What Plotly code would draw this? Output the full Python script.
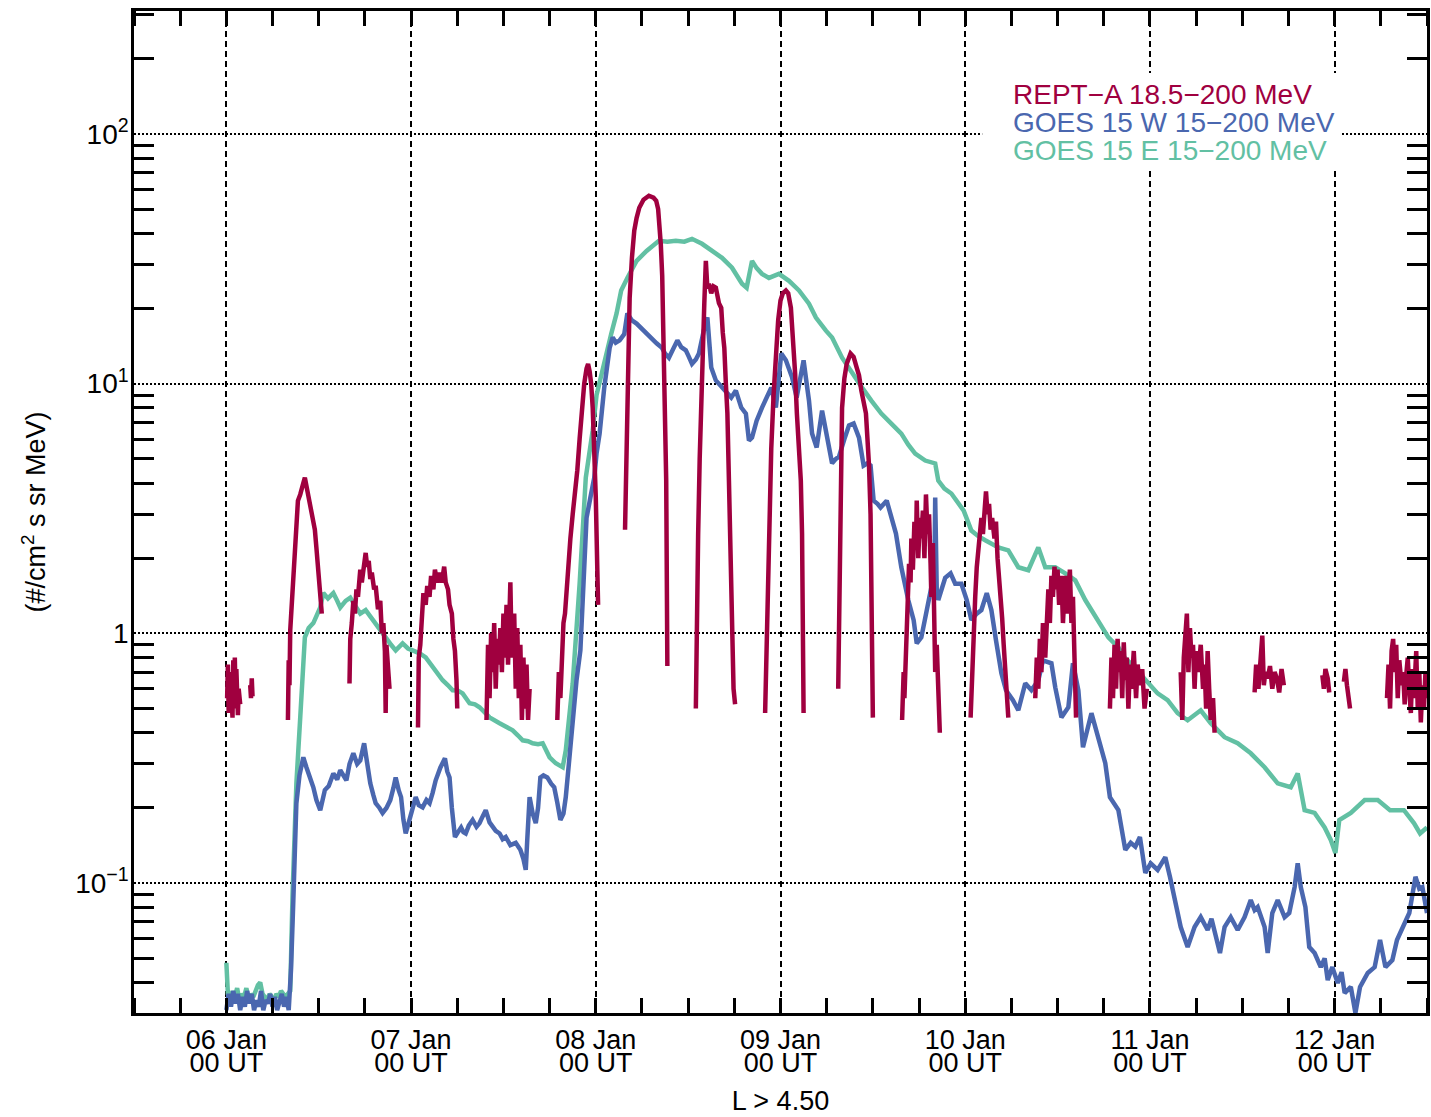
import plotly.graph_objects as go
import pandas as pd

# ---------------- data (hours since 2014-01-06 00 UT, flux) ----------------
goes_w_hours = [0.0, 0.3, 0.6, 0.9, 1.2, 1.5, 1.8, 2.1, 2.4, 2.7, 3.0, 3.3, 3.6, 3.9, 4.2, 4.5, 4.8, 5.1, 5.4, 5.7,
                6.0, 6.3, 6.6, 6.9, 7.2, 7.5, 7.8, 8.1, 8.4, 8.7, 8.9, 9.1, 9.5, 10.0, 10.4, 10.8, 11.3, 11.7, 12.2,
                12.8, 13.3, 13.9, 14.4, 14.8, 15.2, 15.6, 16.0, 16.5, 17.0, 17.4, 17.9, 18.3, 18.7, 19.1, 19.4, 19.9,
                20.3, 20.8, 21.3, 21.7, 22.0, 22.4, 22.7, 23.0, 23.3, 23.7, 24.0, 24.3, 24.6, 25.0, 25.5, 26.0, 26.4,
                26.8, 27.2, 27.8, 28.4, 28.7, 29.0, 29.3, 29.7, 30.1, 30.5, 30.8, 31.1, 31.5, 32.0, 32.5, 32.9, 33.3,
                33.7, 34.2, 34.6, 35.0, 35.5, 35.9, 36.3, 36.9, 37.6, 38.2, 38.6, 38.9, 39.1, 39.4, 39.8, 40.2, 40.5,
                40.8, 41.2, 41.7, 42.2, 42.6, 43.0, 43.4, 43.8, 44.1, 44.5, 45.0, 45.5, 46.0, 46.4, 46.8, 47.3, 47.8,
                48.1, 48.5, 49.1, 49.8, 50.2, 50.6, 51.1, 51.7, 52.1, 52.7, 53.3, 54.0, 54.6, 55.3, 55.9, 56.6, 57.0,
                57.5, 58.0, 58.6, 59.1, 59.7, 60.1, 60.5, 61.0, 61.4, 62.1, 62.5, 62.8, 63.0, 63.6, 64.4, 65.0, 65.6,
                66.2, 66.9, 67.5, 67.9, 68.3, 68.9, 69.6, 70.2, 70.8, 71.4, 72.1, 72.7, 73.5, 74.1, 74.6, 75.0, 75.4,
                75.7, 76.1, 76.7, 77.4, 78.0, 78.7, 79.2, 79.6, 80.3, 80.9, 81.5, 82.2, 82.8, 83.3, 83.7, 84.1, 84.6,
                85.0, 85.8, 86.3, 87.0, 87.7, 88.2, 88.6, 89.3, 89.7, 90.3, 91.0, 91.6, 92.0, 92.1, 92.3, 92.5, 93.4,
                94.1, 94.7, 95.5, 96.2, 96.8, 97.5, 98.1, 98.8, 99.4, 100.0, 100.7, 101.3, 102.2, 102.9, 103.8, 104.6,
                105.5, 106.1, 107.2, 107.7, 108.5, 109.4, 110.0, 110.7, 111.3, 112.4, 113.3, 114.2, 114.8, 115.9,
                116.8, 117.5, 118.1, 118.7, 119.4, 120.1, 121.0, 122.0, 122.6, 123.2, 124.0, 124.9, 125.4, 125.8,
                126.6, 127.5, 128.0, 128.4, 129.1, 129.7, 130.5, 131.4, 132.3, 133.1, 133.6, 134.0, 134.9, 135.3,
                135.9, 136.6, 137.5, 138.1, 138.8, 139.2, 139.6, 140.2, 140.7, 141.4, 142.2, 142.7, 143.1, 143.7,
                144.4, 144.9, 145.3, 146.1, 146.7, 147.3, 148.3, 149.2, 149.9, 150.6, 151.5, 152.1, 152.8, 153.7,
                154.5, 155.0, 155.4, 156.0]
goes_w_flux = [0.031, 0.036, 0.032, 0.037, 0.033, 0.036, 0.031, 0.035, 0.032, 0.037, 0.033, 0.036, 0.031, 0.034,
               0.032, 0.037, 0.031, 0.034, 0.033, 0.036, 0.032, 0.035, 0.031, 0.034, 0.036, 0.032, 0.035, 0.031,
               0.045, 0.085, 0.136, 0.209, 0.27, 0.319, 0.291, 0.27, 0.242, 0.215, 0.196, 0.236, 0.245, 0.275, 0.26,
               0.283, 0.27, 0.258, 0.3, 0.331, 0.3, 0.31, 0.363, 0.3, 0.251, 0.225, 0.209, 0.2, 0.191, 0.2, 0.215,
               0.24, 0.265, 0.235, 0.221, 0.18, 0.158, 0.175, 0.191, 0.2, 0.221, 0.205, 0.201, 0.215, 0.209, 0.23,
               0.258, 0.29, 0.316, 0.28, 0.265, 0.2, 0.153, 0.16, 0.167, 0.16, 0.158, 0.17, 0.179, 0.168, 0.174,
               0.185, 0.196, 0.175, 0.167, 0.162, 0.158, 0.15, 0.153, 0.142, 0.145, 0.136, 0.125, 0.113, 0.15,
               0.221, 0.19, 0.174, 0.2, 0.265, 0.27, 0.265, 0.25, 0.242, 0.21, 0.179, 0.19, 0.221, 0.3, 0.461, 0.65,
               0.855, 1.6, 2.9, 3.5, 4.2, 5.25, 6.31, 9.64, 13.9, 15.3, 14.6, 14.9, 15.8, 19.1, 17.9, 17.4, 16.5,
               15.8, 15.0, 14.5, 13.9, 13.2, 12.7, 13.6, 14.9, 14.0, 13.6, 12.8, 12.0, 12.5, 13.2, 16.7, 18.4, 14.0,
               11.6, 10.3, 9.64, 9.1, 8.79, 9.38, 8.02, 7.59, 5.92, 6.08, 7.11, 8.02, 8.79, 9.64, 8.02, 13.2, 12.4,
               10.6, 8.79, 10.5, 12.4, 10.0, 8.55, 6.31, 5.55, 7.8, 6.31, 4.8, 5.0, 5.1, 6.0, 6.8, 6.92, 6.08, 4.7,
               4.8, 4.7, 3.4, 3.3, 3.19, 3.4, 3.02, 2.51, 1.84, 1.55, 1.36, 1.13, 0.912, 0.964, 1.27, 1.53, 1.7, 3.5,
               1.5, 1.36, 1.67, 1.74, 1.58, 1.58, 1.36, 1.13, 1.2, 1.24, 1.45, 1.24, 0.938, 0.692, 0.592, 0.54,
               0.492, 0.631, 0.592, 0.649, 0.78, 0.759, 0.608, 0.461, 0.506, 0.759, 0.592, 0.35, 0.479, 0.373,
               0.302, 0.221, 0.196, 0.136, 0.145, 0.14, 0.153, 0.11, 0.12, 0.113, 0.127, 0.106, 0.0855, 0.0667,
               0.0555, 0.062, 0.0667, 0.0731, 0.0649, 0.072, 0.0649, 0.0525, 0.0667, 0.0731, 0.0649, 0.0731,
               0.0855, 0.078, 0.0802, 0.0667, 0.0525, 0.0759, 0.0855, 0.0731, 0.0759, 0.0964, 0.12, 0.0964, 0.0802,
               0.0555, 0.0525, 0.0461, 0.05, 0.0409, 0.0461, 0.0398, 0.044, 0.0363, 0.0384, 0.0302, 0.0384, 0.0437,
               0.0461, 0.0592, 0.0461, 0.0492, 0.0592, 0.0667, 0.0759, 0.106, 0.095, 0.0964, 0.0759]

goes_e_hours = [0.0, 0.2, 0.5, 0.8, 1.1, 1.4, 1.7, 2.0, 2.3, 2.6, 2.9, 3.2, 3.5, 3.8, 4.1, 4.4, 4.7, 5.0, 5.3, 5.6,
                5.9, 6.2, 6.5, 6.8, 7.1, 7.4, 7.7, 8.0, 8.3, 8.6, 9.1, 9.6, 10.0, 10.2, 10.7, 11.3, 12.2, 12.6, 13.2,
                13.9, 14.4, 14.8, 15.5, 16.1, 16.8, 17.4, 18.1, 19.0, 19.8, 20.7, 21.4, 22.0, 22.9, 23.6, 24.2, 25.1,
                25.9, 26.8, 27.5, 28.1, 28.8, 29.4, 30.1, 30.7, 31.6, 32.3, 32.9, 33.6, 34.2, 35.5, 36.3, 37.2, 37.9,
                38.5, 39.2, 39.8, 40.5, 41.1, 42.0, 42.8, 43.7, 44.1, 45.0, 45.9, 46.7, 47.6, 48.1, 48.9, 50.0, 50.7,
                51.3, 52.1, 53.3, 54.6, 55.4, 56.2, 57.3, 58.4, 59.5, 60.5, 61.8, 63.1, 64.4, 65.7, 67.0, 67.6, 68.3,
                68.9, 69.6, 70.5, 71.8, 73.1, 74.4, 75.7, 76.6, 77.9, 78.7, 80.0, 81.3, 82.6, 83.8, 85.1, 86.4, 87.7,
                88.6, 89.5, 90.8, 92.1, 92.5, 93.3, 94.2, 95.8, 96.8, 97.7, 98.6, 100.3, 101.6, 102.9, 104.2, 105.5,
                106.4, 107.7, 109.0, 110.3, 111.6, 112.4, 113.3, 114.6, 115.9, 116.7, 117.5, 118.5, 119.4, 121.0,
                122.3, 123.6, 124.9, 125.8, 126.6, 127.9, 128.8, 129.7, 131.4, 133.1, 134.9, 136.6, 138.3, 139.2,
                140.1, 141.4, 142.7, 143.5, 144.1, 144.6, 146.1, 147.9, 149.6, 151.2, 153.0, 154.3, 155.1, 156.0]
goes_e_flux = [0.048, 0.036, 0.034, 0.037, 0.035, 0.038, 0.034, 0.036, 0.035, 0.038, 0.034, 0.036, 0.035, 0.037,
               0.039, 0.040, 0.036, 0.035, 0.034, 0.036, 0.035, 0.034, 0.036, 0.035, 0.037, 0.036, 0.035, 0.036,
               0.037, 0.09, 0.251, 0.461, 0.855, 0.964, 1.05, 1.10, 1.27, 1.45, 1.38, 1.45, 1.35, 1.27, 1.35, 1.39,
               1.28, 1.20, 1.24, 1.13, 1.05, 0.964, 0.9, 0.855, 0.912, 0.87, 0.855, 0.832, 0.802, 0.731, 0.69, 0.649,
               0.62, 0.592, 0.59, 0.575, 0.525, 0.52, 0.506, 0.48, 0.461, 0.437, 0.425, 0.409, 0.39, 0.373, 0.37,
               0.363, 0.36, 0.363, 0.319, 0.302, 0.291, 0.340, 0.631, 1.58, 4.2, 6.5, 9.0, 11.6, 15.8, 19.1, 23.6,
               26.5, 31.0, 34.0, 35.5, 37.3, 37.0, 37.3, 37.0, 38.0, 36.3, 34.0, 31.9, 29.1, 25.1, 24.2, 31.0, 29.0,
               27.5, 26.5, 27.5, 25.8, 23.6, 20.9, 18.4, 16.3, 15.3, 12.7, 11.0, 9.64, 8.55, 7.59, 6.92, 6.31, 5.7,
               5.25, 4.92, 4.79, 4.09, 3.8, 3.63, 3.1, 2.58, 2.45, 2.36, 2.21, 2.15, 1.84, 1.79, 2.21, 1.84, 1.84,
               1.74, 1.63, 1.36, 1.24, 1.13, 0.964, 0.879, 0.8, 0.759, 0.7, 0.649, 0.575, 0.54, 0.479, 0.449, 0.47,
               0.492, 0.437, 0.409, 0.384, 0.363, 0.331, 0.291, 0.251, 0.242, 0.275, 0.196, 0.191, 0.167, 0.149,
               0.132, 0.179, 0.191, 0.215, 0.215, 0.196, 0.196, 0.174, 0.158, 0.167]

# REPT-A: separate passes (L > 4.5), None marks a data gap
rept_hours = [0.1, 0.2, 0.3, 0.4, 0.5, 0.6, 0.8, 0.9, 1.0, 1.1, 1.2, 1.3, 1.5, 1.6, 1.8, None,
              3.1, 3.2, 3.3, 3.4, None,
              8.0, 8.1, 8.2, 8.3, 8.5, 8.7, 8.9, 9.1, 9.3, 9.6, 9.8, 10.0, 10.2, 10.4, 10.6, 10.9, 11.2, 11.5,
              11.7, 11.9, 12.1, 12.3, 12.4, None,
              16.0, 16.1, 16.3, 16.5, 16.7, 16.9, 17.1, 17.4, 17.6, 17.9, 18.1, 18.3, 18.5, 18.7, 18.9, 19.2,
              19.4, 19.7, 20.0, 20.2, 20.4, 20.6, 20.7, 20.8, 21.0, 21.2, None,
              24.9, 25.0, 25.2, 25.4, 25.6, 25.9, 26.1, 26.4, 26.6, 26.9, 27.1, 27.4, 27.7, 28.0, 28.3, 28.5,
              28.8, 29.0, 29.3, 29.5, 29.7, 29.9, 30.0, None,
              33.8, 34.0, 34.2, 34.4, 34.6, 34.8, 35.0, 35.2, 35.4, 35.6, 35.8, 36.0, 36.2, 36.4, 36.6, 36.9,
              37.0, 37.2, 37.4, 37.6, 37.8, 38.0, 38.2, 38.4, 38.6, 38.8, 39.0, 39.2, 39.4, None,
              43.0, 43.2, 43.4, 43.6, 43.8, 44.0, 44.2, 44.5, 44.7, 45.0, 45.3, 45.6, 45.9, 46.2, 46.5, 46.8,
              47.0, 47.2, 47.4, 47.6, 47.8, 48.0, 48.2, 48.3, None,
              51.8, 52.0, 52.2, 52.4, 52.7, 53.0, 53.3, 53.65, 54.2, 54.9, 55.5, 55.85, 56.1, 56.24, 56.45, 56.63,
              56.8, 56.9, 57.05, 57.15, 57.3, None,
              61.0, 61.1, 61.3, 61.5, 61.7, 61.9, 62.1, 62.3, 62.5, 62.7, 63.0, 63.3, 63.6, 64.0, 64.3, 64.5,
              64.7, 64.9, 65.1, 65.3, 65.5, 65.7, 65.9, 66.1, None,
              70.0, 70.2, 70.4, 70.6, 70.8, 71.1, 71.4, 71.7, 72.0, 72.3, 72.7, 73.0, 73.35, 73.6, 73.74, 73.9,
              74.13, 74.4, 74.64, 74.8, 74.9, 75.0, None,
              79.5, 79.7, 79.9, 80.0, 80.3, 80.6, 81.1, 81.5, 81.9, 82.2, 82.5, 82.8, 83.1, 83.3, 83.5, 83.7,
              83.85, 84.0, None,
              87.8, 88.0, 88.1, 88.3, 88.5, 88.7, 88.9, 89.0, 89.2, 89.4, 89.6, 89.7, 89.9, 90.1, 90.3, 90.5,
              90.7, 90.9, 91.1, 91.3, 91.5, 91.6, 91.8, 92.0, 92.1, 92.3, 92.5, 92.7, None,
              96.7, 96.9, 97.1, 97.3, 97.5, 97.7, 97.9, 98.1, 98.3, 98.5, 98.7, 98.9, 99.1, 99.3, 99.5, 99.8,
              100.0, 100.2, 100.4, 100.6, 100.8, 101.0, 101.2, 101.4, 101.6, None,
              105.1, 105.3, 105.5, 105.7, 105.9, 106.1, 106.4, 106.6, 106.8, 107.0, 107.2, 107.4, 107.6, 107.8,
              108.0, 108.2, 108.5, 108.7, 109.0, 109.2, 109.4, 109.6, 109.8, 110.0, 110.2, 110.4, None,
              114.8, 115.0, 115.2, 115.4, 115.6, 115.8, 116.0, 116.2, 116.4, 116.6, 116.8, 117.0, 117.2, 117.4,
              117.6, 117.9, 118.2, 118.4, 118.7, 119.0, 119.3, 119.6, None,
              124.0, 124.2, 124.4, 124.6, 124.8, 125.0, 125.2, 125.4, 125.6, 125.8, 126.0, 126.3, 126.6, 126.9,
              127.1, 127.3, 127.5, 127.7, 127.9, 128.2, 128.4, None,
              133.6, 133.8, 134.1, 134.4, 134.6, 134.8, 135.0, 135.3, 135.6, 135.9, 136.2, 136.5, 136.8, 137.1,
              137.4, None,
              142.4, 142.6, 142.8, 143.1, 143.3, None,
              145.2, 145.4, 145.6, 145.8, 146.0, None,
              150.8, 151.0, 151.2, 151.4, 151.6, 151.8, 152.0, 152.2, 152.4, 152.7, 152.9, 153.1, 153.3, 153.5,
              153.7, 153.9, 154.1, 154.3, 154.6, 154.8, 155.0, 155.2, 155.4, 155.6, 155.8, 156.0]
rept_flux = [0.55, 0.75, 0.48, 0.70, 0.52, 0.62, 0.46, 0.78, 0.50, 0.80, 0.55, 0.72, 0.47, 0.60, 0.52, None,
             0.62, 0.55, 0.66, 0.56, None,
             0.45, 0.78, 0.62, 1.03, 1.3, 1.84, 2.3, 3.0, 3.4, 3.6, 3.9, 4.0, 4.2, 3.9, 3.6, 3.3, 2.9, 2.6, 2.2,
             1.9, 1.6, 1.35, 1.2, None,
             0.63, 0.95, 1.1, 1.35, 1.2, 1.5, 1.4, 1.8, 1.6, 1.95, 2.1, 1.85, 1.95, 1.65, 1.75, 1.5, 1.55, 1.25,
             1.35, 1.0, 1.1, 0.85, 0.48, 0.9, 0.7, 0.6, None,
             0.42, 0.8, 0.9, 1.2, 1.45, 1.3, 1.55, 1.4, 1.7, 1.5, 1.8, 1.6, 1.75, 1.6, 1.85, 1.6, 1.5, 1.3, 1.2,
             0.95, 0.85, 0.65, 0.5, None,
             0.45, 0.9, 0.55, 1.0, 0.7, 1.1, 0.6, 0.95, 0.75, 1.05, 0.7, 1.2, 0.8, 1.3, 0.75, 1.6, 1.1, 0.8, 1.2,
             0.6, 1.05, 0.55, 0.9, 0.45, 0.8, 0.5, 0.75, 0.45, 0.6, None,
             0.45, 0.7, 0.55, 0.9, 1.1, 1.2, 1.5, 1.9, 2.4, 3.0, 3.6, 4.5, 6.0, 8.0, 10.0, 11.5, 12.0, 11.2, 10.0,
             8.0, 5.5, 3.5, 1.8, 1.3, None,
             2.6, 5.0, 12.0, 22.0, 32.0, 41.0, 46.0, 50.6, 54.5, 56.5, 55.5, 54.0, 50.0, 44.9, 36.0, 27.0, 16.0,
             10.3, 6.0, 4.09, 0.74, None,
             0.5, 1.0, 2.5, 5.0, 9.0, 14.0, 21.0, 31.0, 24.0, 25.1, 23.0, 24.5, 24.2, 21.0, 20.1, 16.0, 13.9, 10.0,
             7.6, 4.1, 2.0, 1.0, 0.6, 0.52, None,
             0.48, 1.0, 2.0, 3.5, 5.5, 9.0, 13.9, 18.0, 21.5, 23.0, 23.6, 23.0, 20.1, 16.0, 13.9, 11.0, 7.59, 5.0,
             4.09, 2.5, 1.2, 0.48, None,
             0.6, 1.5, 4.0, 8.0, 10.5, 12.0, 13.2, 12.8, 11.6, 10.8, 9.4, 8.5, 7.6, 6.0, 4.7, 3.0, 1.5, 0.46, None,
             0.45, 0.7, 0.55, 0.9, 1.4, 1.9, 1.6, 2.4, 1.8, 2.8, 2.2, 3.4, 2.0, 2.9, 2.4, 3.1, 2.0, 3.6, 2.5, 3.0,
             1.9, 1.4, 2.3, 1.0, 0.7, 0.9, 0.5, 0.4, None,
             0.46, 0.75, 1.0, 1.4, 1.84, 2.2, 2.6, 2.9, 2.5, 3.3, 3.7, 3.0, 3.3, 2.6, 2.9, 2.4, 2.8, 2.0, 1.7, 1.32,
             1.15, 0.9, 0.75, 0.55, 0.46, None,
             0.55, 0.8, 0.6, 0.95, 0.7, 1.1, 0.8, 1.3, 1.5, 1.1, 1.7, 1.4, 1.85, 1.5, 1.8, 1.3, 1.7, 1.1, 1.7, 1.2,
             1.6, 1.8, 1.1, 1.4, 0.8, 0.46, None,
             0.5, 0.8, 0.55, 0.9, 0.6, 0.95, 0.7, 0.85, 0.55, 0.92, 0.65, 0.8, 0.5, 0.75, 0.6, 0.85, 0.55, 0.75,
             0.62, 0.72, 0.5, 0.6, None,
             0.7, 0.45, 0.8, 0.95, 1.2, 0.7, 1.05, 0.8, 0.9, 0.6, 0.85, 0.7, 0.9, 0.6, 0.75, 0.5, 0.85, 0.6, 0.45,
             0.55, 0.4, None,
             0.58, 0.75, 0.6, 0.8, 0.98, 0.62, 0.7, 0.66, 0.74, 0.6, 0.7, 0.66, 0.58, 0.72, 0.62, None,
             0.68, 0.6, 0.72, 0.66, 0.58, None,
             0.64, 0.72, 0.62, 0.55, 0.5, None,
             0.55, 0.75, 0.5, 0.85, 0.95, 0.7, 0.9, 0.55, 0.78, 0.62, 0.7, 0.52, 0.68, 0.8, 0.6, 0.48, 0.72, 0.55,
             0.85, 0.5, 0.7, 0.44, 0.62, 0.5, 0.7, 0.55]

day_ticks = ["2014-01-06", "2014-01-07", "2014-01-08", "2014-01-09", "2014-01-10", "2014-01-11", "2014-01-12"]
day_labels = ["06 Jan", "07 Jan", "08 Jan", "09 Jan", "10 Jan", "11 Jan", "12 Jan"]
hour_labels = ["00 UT"] * 7
y_ticks = [0.1, 1, 10, 100]
y_labels = ["10<sup>\u22121</sup>", "1", "10<sup>1</sup>", "10<sup>2</sup>"]
series_names = ["REPT\u2212A 18.5\u2212200 MeV", "GOES 15 W 15\u2212200 MeV", "GOES 15 E 15\u2212200 MeV"]
x_title = "L > 4.50"
y_title = "(#/cm<sup>2</sup> s sr MeV)"

# ---------------- styling ----------------
C_REPT = "#a0003f"
C_W = "#4a67af"
C_E = "#62c0a3"
FONT = "Liberation Sans, Arial, Helvetica, sans-serif"
base = pd.Timestamp("2014-01-06")


def to_time(hours):
    return [None if h is None else base + pd.Timedelta(hours=h) for h in hours]


fig = go.Figure()
fig.add_trace(go.Scatter(x=to_time(goes_e_hours), y=goes_e_flux, mode="lines",
                         line=dict(color=C_E, width=4.5), name=series_names[2]))
fig.add_trace(go.Scatter(x=to_time(goes_w_hours), y=goes_w_flux, mode="lines",
                         line=dict(color=C_W, width=4.5), name=series_names[1]))
fig.add_trace(go.Scatter(x=to_time(rept_hours), y=rept_flux, mode="lines", connectgaps=False,
                         line=dict(color=C_REPT, width=4.5), name=series_names[0]))
# carrier for the second row of time labels
fig.add_trace(go.Scatter(x=[], y=[], xaxis="x2", showlegend=False))

x_range = [base - pd.Timedelta(hours=12), base + pd.Timedelta(hours=156)]
minor_y = [m * 10.0 ** e for e in (-2, -1, 0, 1, 2) for m in range(2, 10)]

fig.update_layout(
    width=1431, height=1117,
    margin=dict(l=134, r=1, t=11, b=104),
    plot_bgcolor="white", paper_bgcolor="white",
    showlegend=False,
    font=dict(family=FONT, size=28, color="black"),
    xaxis=dict(
        type="date", range=x_range, tickmode="array", tickvals=day_ticks, ticktext=day_labels,
        showgrid=True, gridcolor="black", gridwidth=2, griddash="6px,4px",
        ticks="", showline=True, linecolor="black", linewidth=2.5, mirror="allticks",
        zeroline=False, tickfont=dict(size=27), ticklabelstandoff=1,
        minor=dict(ticks="inside", ticklen=15, tickwidth=2.5, tickcolor="black",
                   dtick=6 * 3600 * 1000, tick0="2014-01-06", showgrid=False),
        title=dict(text=x_title, font=dict(size=27), standoff=37),
    ),
    xaxis2=dict(
        type="date", range=x_range, overlaying="x", side="bottom", anchor="y",
        tickmode="array", tickvals=day_ticks, ticktext=hour_labels,
        showgrid=False, showline=False, ticks="", zeroline=False,
        tickfont=dict(size=27), ticklabelstandoff=31,
    ),
    yaxis=dict(
        type="log", range=[-1.52, 2.492], tickmode="array", tickvals=y_ticks, ticktext=y_labels,
        showgrid=True, gridcolor="black", gridwidth=2, griddash="2px,2px",
        ticks="", showline=True, linecolor="black", linewidth=2.5, mirror="allticks",
        zeroline=False, tickfont=dict(size=28), ticklabelstandoff=-3,
        minor=dict(ticks="inside", ticklen=20, tickwidth=2.5, tickcolor="black",
                   tickmode="array", tickvals=minor_y, showgrid=False),
        title=dict(text=y_title, font=dict(size=27), standoff=22),
    ),
)

# legend block: white panel with coloured labels
fig.add_shape(type="rect", xref="paper", yref="paper", x0=0.656, x1=0.934, y0=0.842, y1=0.938,
              fillcolor="white", line=dict(width=0), layer="above")
for i, (name, col) in enumerate(zip(series_names, [C_REPT, C_W, C_E])):
    fig.add_annotation(xref="paper", yref="paper", x=0.678, y=0.917 - 0.028 * i,
                       xanchor="left", yanchor="middle", showarrow=False,
                       text=name, font=dict(size=28, color=col, family=FONT))

fig.write_html("out.html")
